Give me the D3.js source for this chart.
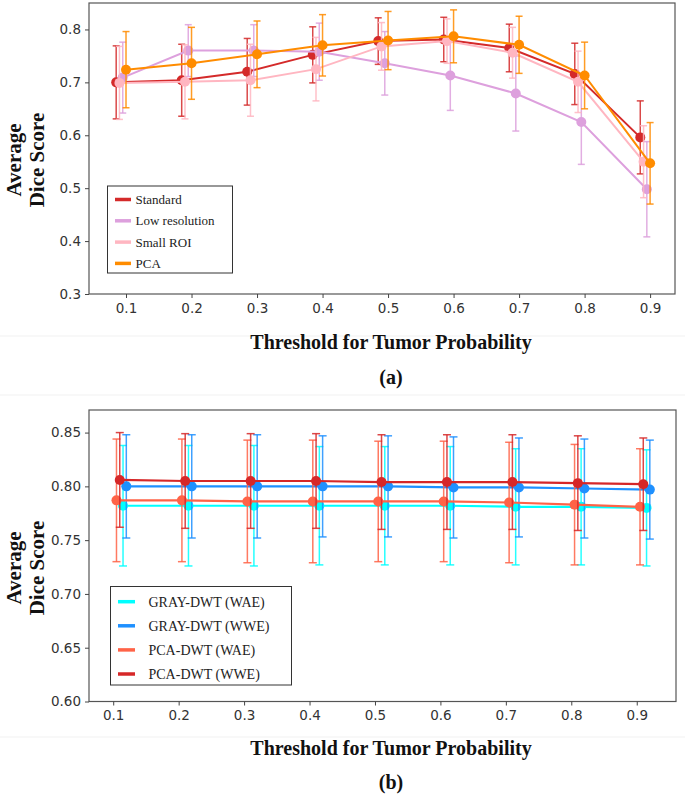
<!DOCTYPE html>
<html><head><meta charset="utf-8">
<script src="https://cdn.jsdelivr.net/npm/d3@7"></script>
<style>body{margin:0;background:#fff}svg{display:block}</style>
</head><body>
<svg id="c" width="685" height="794"></svg>
<script>
// ---------- Data ----------
const thresholds = [0.1,0.2,0.3,0.4,0.5,0.6,0.7,0.8,0.9];
const xTickLabels = ["0.1","0.2","0.3","0.4","0.5","0.6","0.7","0.8","0.9"];

// Panel (a)
const seriesA = ["Standard","Low resolution","Small ROI","PCA"];
const standardMean = [0.700,0.704,0.720,0.752,0.778,0.781,0.765,0.716,0.596];
const standardStd  = [0.069,0.068,0.063,0.053,0.044,0.042,0.045,0.058,0.069];
const lowResMean   = [0.709,0.760,0.760,0.758,0.736,0.713,0.679,0.625,0.498];
const lowResStd    = [0.067,0.049,0.049,0.054,0.060,0.066,0.071,0.080,0.090];
const smallRoiMean = [0.699,0.701,0.704,0.725,0.768,0.778,0.756,0.701,0.550];
const smallRoiStd  = [0.069,0.070,0.068,0.060,0.045,0.042,0.048,0.058,0.068];
const pcaMean      = [0.724,0.736,0.753,0.770,0.779,0.787,0.771,0.713,0.547];
const pcaStd       = [0.072,0.068,0.063,0.058,0.055,0.050,0.054,0.063,0.077];
const yTicksA = [0.3,0.4,0.5,0.6,0.7,0.8];

// Panel (b)
const seriesB = ["GRAY-DWT (WAE)","GRAY-DWT (WWE)","PCA-DWT (WAE)","PCA-DWT (WWE)"];
const grayWaeMean = [0.782,0.782,0.782,0.782,0.782,0.782,0.781,0.781,0.780];
const grayWaeStd  = [0.056,0.056,0.056,0.055,0.055,0.055,0.054,0.054,0.054];
const grayWweMean = [0.800,0.800,0.800,0.800,0.800,0.799,0.799,0.798,0.797];
const grayWweStd  = [0.048,0.048,0.048,0.047,0.047,0.047,0.046,0.046,0.046];
const pcaWaeMean  = [0.787,0.787,0.786,0.786,0.786,0.786,0.785,0.783,0.781];
const pcaWaeStd   = [0.057,0.057,0.057,0.057,0.056,0.056,0.056,0.056,0.054];
const pcaWweMean  = [0.806,0.805,0.805,0.805,0.804,0.804,0.804,0.803,0.802];
const pcaWweStd   = [0.044,0.044,0.044,0.044,0.044,0.044,0.044,0.044,0.043];
const yTicksB = [0.60,0.65,0.70,0.75,0.80,0.85];

// ---------- Config ----------
const colorsA = ["#d42a2a","#dda0dd","#ffb6c1","#ff8c00"];
const offsetsA = [-0.015,-0.005,-0.010,0];
const colorsB = ["#00ffff","#1e90ff","#ff6347","#d62728"];
const offsetsB = [0.015,0.020,0.005,0.010];

const svg = d3.select("#c");
const tickFont = "'DejaVu Sans', sans-serif";
const serif = "'Liberation Serif','Times New Roman',serif";

// faint separators
[[336],[395],[737]].forEach(([y])=>{
  svg.append("line").attr("x1",0).attr("x2",685).attr("y1",y).attr("y2",y)
    .attr("stroke","#f1f1f1").attr("stroke-width",1);
});

function panel(opts){
  const {x0,x1,y0,y1,xDom,yDom,yTicks,yFmt,means,stds,colors,offsets,names,legend,ylabelX,ylabelY,lw,r,cap} = opts;
  const x = d3.scaleLinear().domain(xDom).range([x0,x1]);
  const y = d3.scaleLinear().domain(yDom).range([y1,y0]);
  const g = svg.append("g");

  means.forEach((m,si)=>{
    const pts = thresholds.map((t,i)=>({x:t+offsets[si], y:m[i], s:stds[si][i]}));
    const c = colors[si];
    const sg = g.append("g");
    pts.forEach(p=>{
      const px = x(p.x);
      sg.append("line").attr("x1",px).attr("x2",px).attr("y1",y(p.y-p.s)).attr("y2",y(p.y+p.s))
        .attr("stroke",c).attr("stroke-width",1.5).attr("opacity",0.85);
      [p.y-p.s,p.y+p.s].forEach(v=>{
        sg.append("line").attr("x1",px-cap).attr("x2",px+cap).attr("y1",y(v)).attr("y2",y(v))
          .attr("stroke",c).attr("stroke-width",1.5).attr("opacity",0.85);
      });
    });
    sg.append("path").datum(pts)
      .attr("d",d3.line().x(d=>x(d.x)).y(d=>y(d.y)))
      .attr("fill","none").attr("stroke",c).attr("stroke-width",lw);
    sg.selectAll("circle").data(pts).join("circle")
      .attr("cx",d=>x(d.x)).attr("cy",d=>y(d.y)).attr("r",r).attr("fill",c);
  });

  g.append("rect").attr("x",x0).attr("y",y0).attr("width",x1-x0).attr("height",y1-y0)
    .attr("fill","none").attr("stroke","#555").attr("stroke-width",1.2);

  const ax = g.append("g").attr("transform",`translate(0,${y1})`)
    .call(d3.axisBottom(x).tickValues(thresholds).tickFormat((d,i)=>xTickLabels[i]).tickSize(4).tickPadding(5));
  const ay = g.append("g").attr("transform",`translate(${x0},0)`)
    .call(d3.axisLeft(y).tickValues(yTicks).tickFormat(d3.format(yFmt)).tickSize(4).tickPadding(4));
  [ax,ay].forEach(a=>{
    a.select(".domain").remove();
    a.selectAll(".tick line").attr("stroke","#444").attr("stroke-width",1);
    a.selectAll(".tick text").attr("fill","#333").style("font-family",tickFont).style("font-size","13.5px");
  });

  const yl = svg.append("text").attr("transform",`translate(${ylabelX},${ylabelY}) rotate(-90)`)
    .attr("text-anchor","middle").style("font-family",serif).style("font-weight","bold").style("font-size","21px").attr("fill","#111");
  yl.append("tspan").attr("x",0).attr("dy","-0.15em").text("Average");
  yl.append("tspan").attr("x",0).attr("dy","1.1em").text("Dice Score");

  const L = legend;
  const lg = svg.append("g");
  lg.append("rect").attr("x",L.x).attr("y",L.y).attr("width",L.w).attr("height",L.h)
    .attr("fill","#fff").attr("stroke","#333").attr("stroke-width",1);
  names.forEach((n,i)=>{
    const yy = L.firstY + i*L.step;
    lg.append("line").attr("x1",L.hx0).attr("x2",L.hx1).attr("y1",yy).attr("y2",yy)
      .attr("stroke",colors[i]).attr("stroke-width",3.5);
    lg.append("text").attr("x",L.tx).attr("y",yy).attr("dy","0.35em")
      .style("font-family",serif).style("font-size",L.fs+"px").attr("fill","#222").text(n);
  });
}

panel({x0:89,x1:675,y0:3,y1:294,xDom:[0.0435,0.938],yDom:[0.3,0.85],yTicks:yTicksA,yFmt:".1f",
  means:[standardMean,lowResMean,smallRoiMean,pcaMean],stds:[standardStd,lowResStd,smallRoiStd,pcaStd],
  colors:colorsA,offsets:offsetsA,names:seriesA,lw:2,r:5,cap:3.5,
  ylabelX:24,ylabelY:160,
  legend:{x:107.5,y:186,w:125,h:87,firstY:199.5,step:21.3,hx0:115,hx1:131,tx:135.5,fs:13}});

panel({x0:89,x1:676,y0:410,y1:701.5,xDom:[0.063,0.96],yDom:[0.6,0.871],yTicks:yTicksB,yFmt:".2f",
  means:[grayWaeMean,grayWweMean,pcaWaeMean,pcaWweMean],stds:[grayWaeStd,grayWweStd,pcaWaeStd,pcaWweStd],
  colors:colorsB,offsets:offsetsB,names:seriesB,lw:2.2,r:5,cap:4,
  ylabelX:24,ylabelY:568,
  legend:{x:110.5,y:586.5,w:181,h:98.5,firstY:601.7,step:24.1,hx0:118,hx1:135,tx:148.5,fs:14}});

function title(txt,y,size){
  svg.append("text").attr("x",391).attr("y",y).attr("text-anchor","middle").attr("dy","0.35em")
    .style("font-family",serif).style("font-weight","bold").style("font-size",size+"px").attr("fill","#111").text(txt);
}
title("Threshold for Tumor Probability",342,20);
title("(a)",377,20);
title("Threshold for Tumor Probability",748,20);
title("(b)",782,20);
</script>
</body></html>
